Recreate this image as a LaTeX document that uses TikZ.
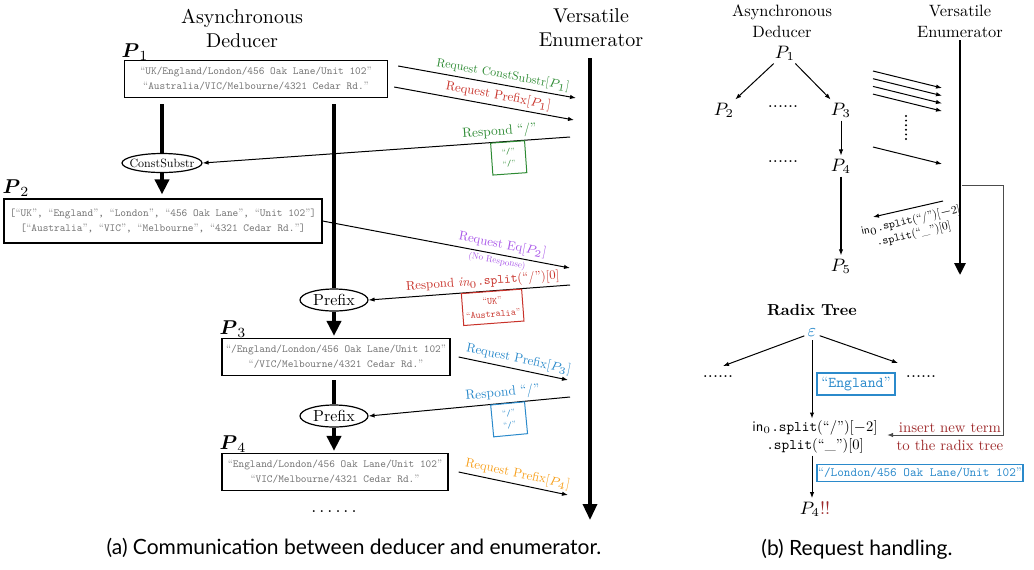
\documentclass[tikz,border=0pt]{standalone}
\usepackage{amsmath}
\usepackage{fontspec}
\setmainfont{lmroman10-regular.otf}[BoldFont=lmroman10-bold.otf,
  ItalicFont=lmroman10-italic.otf,BoldItalicFont=lmroman10-bolditalic.otf]
\setsansfont{lmsans10-regular.otf}
\setmonofont{lmmono10-regular.otf}
\newfontfamily\capfont{Lato}
\usepackage{tikz}
\usetikzlibrary{arrows.meta,shapes.geometric}
\definecolor{cgreen}{HTML}{2E8B34}
\definecolor{cred}{HTML}{C8322A}
\definecolor{cpurple}{HTML}{A855E8}
\definecolor{cblue}{HTML}{2B8ACB}
\definecolor{corange}{HTML}{F7A01D}
\definecolor{cdred}{HTML}{9E2A2B}
\newcommand{\tq}[1]{\textrm{“}#1\textrm{”}}

\begin{document}
\begin{tikzpicture}[x=0.5pt,y=-0.5pt,
  tbox/.style={draw,line width=0.6pt,align=center,text=black!55,inner sep=0pt,
               font=\fontsize{5.4}{7.4}\selectfont\ttfamily,minimum height=18.5pt},
  oval/.style={draw,ellipse,line width=0.6pt,inner sep=0pt},
  arr/.style={-{Latex[length=3pt,width=2.2pt]},line width=0.5pt},
  bigarr/.style={-{Triangle[length=7.5pt,width=7pt]},line width=2pt},
  lbl/.style={sloped,font=\fontsize{6.4}{7.5}\selectfont,inner sep=1.5pt},
  cbox/.style={draw,sloped,line width=0.5pt,align=center,inner sep=1.5pt,
               font=\fontsize{4.4}{6}\selectfont\ttfamily,minimum height=16pt},
  rp/.style={font=\fontsize{9}{10}\selectfont,inner sep=1.5pt}
]
\useasboundingbox (0,0) rectangle (1034,569);

% (a) deducer and enumerator
\node[align=center] (ded) at (242,28) {Asynchronous\\Deducer};
\node[align=center] (enu) at (591,28) {Versatile\\Enumerator};

\node (p1) at (135,52) {$\boldsymbol{P}_1$};
\node[tbox,minimum width=131.5pt] (b1) at (256,79)
  {\tq{UK/England/London/456 Oak Lane/Unit 102}\\\tq{Australia/VIC/Melbourne/4321 Cedar Rd.}};
\node[oval,minimum width=40pt,minimum height=9.5pt,font=\fontsize{6}{7}\selectfont] (cs) at (162,163)
  {\makebox[26pt]{ConstSubstr}};
\node (p2) at (16,188) {$\boldsymbol{P}_2$};
\node[tbox,minimum width=159pt,minimum height=22pt] (b2) at (163,221)
  {[\tq{UK}, \tq{England}, \tq{London}, \tq{456 Oak Lane}, \tq{Unit 102}]\\{}[\tq{Australia}, \tq{VIC}, \tq{Melbourne}, \tq{4321 Cedar Rd.}]};
\node[oval,minimum width=34pt,minimum height=11pt,font=\fontsize{8}{9}\selectfont] (pf1) at (334,300) {Prefix};
\node (p3) at (233,329) {$\boldsymbol{P}_3$};
\node[tbox,minimum width=114pt] (b3) at (336,357)
  {\tq{/England/London/456 Oak Lane/Unit 102}\\\tq{/VIC/Melbourne/4321 Cedar Rd.}};
\node[oval,minimum width=34pt,minimum height=11pt,font=\fontsize{8}{9}\selectfont] (pf2) at (334,416) {Prefix};
\node (p4) at (233,444) {$\boldsymbol{P}_4$};
\node[tbox,minimum width=113pt] (b4) at (335,472)
  {\tq{England/London/456 Oak Lane/Unit 102}\\\tq{VIC/Melbourne/4321 Cedar Rd.}};
\node[font=\fontsize{9}{10}\selectfont] (ld) at (334,512) {.\,.\,.\,.\,.\,.};

\draw[line width=2pt,shorten <=3pt] (cs.north |- b1.south) -- (cs.north);
\draw[bigarr,shorten >=2pt] (cs.south) -- (cs.south |- b2.north);
\draw[line width=2pt,shorten <=3pt] (pf1.north |- b1.south) -- (pf1.north);
\draw[bigarr,shorten >=1pt] (pf1.south) -- (pf1.south |- b3.north);
\draw[line width=2pt,shorten <=2pt] (pf2.north |- b3.south) -- (pf2.north);
\draw[bigarr,shorten >=1pt] (pf2.south) -- (pf2.south |- b4.north);

\coordinate (et) at (590,58);
\coordinate (eb) at (590,520);
\draw[-{Triangle[length=8pt,width=7pt]},line width=1.7pt] (et) -- (eb);

\coordinate (q1) at (576,98);
\coordinate (q2) at (574,120);
\coordinate (s3) at (570,137);
\coordinate (q4) at (570,268);
\coordinate (s5) at (570,285);
\coordinate (q6) at (568,380);
\coordinate (s7) at (570,397);
\coordinate (q8) at (568,495);

\draw[arr] ([shift={(5pt,6.5pt)}]b1.east) -- (q1)
  node[lbl,above,pos=0.58,text=cgreen,font=\fontsize{6}{7}\selectfont] {Request ConstSubstr[$P_1$]};
\draw[arr] ([shift={(3pt,-4pt)}]b1.east) -- (q2)
  node[lbl,above,pos=0.57,text=cred] {Request Prefix[$P_1$]};
\draw[arr] (s3) -- (cs.east)
  node[lbl,above,pos=0.19,text=cgreen,font=\fontsize{6.7}{8}\selectfont] {Respond “/”}
  node[cbox,below,pos=0.17,draw=cgreen,text=cgreen,minimum width=17pt] {\tq{/}\\\tq{/}};
\draw[arr] (b2.east) -- (q4)
  node[lbl,above,pos=0.72,text=cpurple] {Request Eq[$P_2$]}
  node[lbl,below,pos=0.71,text=cpurple,inner sep=1pt,font=\fontsize{4.5}{5}\selectfont] {(No Response)};
\draw[arr] (s5) -- (pf1.east)
  node[lbl,above,pos=0.43,text=cred] {Respond $\mathit{in}_0$\texttt{.split}(“/”)[0]}
  node[cbox,below,pos=0.39,draw=cred,text=cred,font=\fontsize{4.8}{6.5}\selectfont\ttfamily] {\tq{UK}\\\tq{Australia}};
\draw[arr] ([xshift=4pt]b3.east) -- (q6)
  node[lbl,above,pos=0.53,text=cblue] {Request Prefix[$P_3$]};
\draw[arr] (s7) -- (pf2.east)
  node[lbl,above,pos=0.33,text=cblue,font=\fontsize{6.7}{8}\selectfont] {Respond “/”}
  node[cbox,below,pos=0.31,draw=cblue,text=cblue,minimum width=17pt] {\tq{/}\\\tq{/}};
\draw[arr] ([xshift=5pt]b4.east) -- (q8)
  node[lbl,above,pos=0.52,text=corange] {Request Prefix[$P_4$]};

\node[font=\capfont\fontsize{10.5}{12}\selectfont] (capa) at (354,548)
  {(a) Communication between deducer and enumerator.};

% (b) request handling
\node[align=center,font=\fontsize{8.2}{10.5}\selectfont] (ded2) at (782,21) {Asynchronous\\Deducer};
\node[align=center,font=\fontsize{8.2}{10.5}\selectfont] (enu2) at (960,21) {Versatile\\Enumerator};
\node[rp] (r1) at (785,53) {$P_1$};
\node[rp] (r2) at (724,110) {$P_2$};
\node[rp] (rd1) at (783,107) {......};
\node[rp] (r3) at (841,110) {$P_3$};
\node[rp] (rd2) at (783,162) {......};
\node[rp] (r4) at (841,166) {$P_4$};
\node[rp] (r5) at (841,266) {$P_5$};
\draw[arr] (r1) -- (r2);
\draw[arr] (r1) -- (r3);
\draw[arr,line width=0.4pt] (r3) -- (r4);
\draw[arr,line width=0.8pt] (r4) -- (r5);

\foreach \i in {0,...,3} {
  \coordinate (m\i) at (873,71+7.7*\i);
  \coordinate (n\i) at (942,88+7.7*\i);
  \draw[arr] (m\i) -- (n\i);
}
\coordinate (dt) at (906,116);
\coordinate (db) at (906,142);
\draw[line width=1.1pt,dash pattern=on 0pt off 2.3pt,line cap=round] (dt) -- (db);
\coordinate (m4) at (873,147);
\coordinate (n4) at (942,164);
\draw[arr] (m4) -- (n4);

\coordinate (et2) at (960,40);
\coordinate (eb2) at (960,275);
\draw[-{Triangle[length=6pt,width=5.5pt]},line width=1.4pt] (et2) -- (eb2);

\coordinate (k1) at (943,201);
\coordinate (k2) at (873,217);
\draw[arr] (k1) -- (k2)
  node[sloped,below,pos=0.5,align=center,inner sep=3pt,font=\fontsize{5.7}{7}\selectfont]
  {\textsf{in}$_0$\texttt{.split}(“/”)[$-$2]\\\texttt{.split}(“\_”)[0]};

\node[font=\bfseries\fontsize{8}{9}\selectfont] (rt) at (812,310) {Radix Tree};
\node[rp,text=cblue] (eps) at (812,333) {$\varepsilon$};
\coordinate (tl) at (723,366);
\coordinate (tr) at (898,363);
\draw[arr] (eps) -- (tl);
\draw[arr] (eps) -- (tr);
\node[rp] (td1) at (718,377) {......};
\node[rp] (td2) at (921,377) {......};
\node[draw=cblue,line width=0.7pt,text=cblue,font=\fontsize{7.5}{8}\selectfont\ttfamily,
      minimum width=39pt,minimum height=11pt,inner sep=1pt] (eng) at (856,384) {\tq{England}};
\node[align=center,font=\fontsize{7.3}{8.8}\selectfont,inner sep=1pt] (spl) at (815,437)
  {\textsf{in}$_0$\texttt{.split}(“/”)[$-$2]\\\texttt{.split}(“\_”)[0]};
\draw[arr] (eps.south) -- (eps.south |- spl.north);
\node[rp] (r4b) at (815,509) {$P_4$\textcolor{cdred}{!!}};
\draw[arr] (spl.south -| eps) -- (r4b.north -| eps);
\node[draw=cblue,line width=0.7pt,text=cblue,font=\fontsize{6.3}{7}\selectfont\ttfamily,
      minimum width=102.5pt,minimum height=8.5pt,inner sep=0.5pt] (lon) at (920,473)
  {\tq{/London/456 Oak Lane/Unit 102}};
\node[text=cdred,align=center,font=\fontsize{7.4}{9}\selectfont] (ins) at (950,437)
  {insert new term\\to the radix tree};

\coordinate (h1) at (962,185);
\coordinate (h2) at (1003,435);
\coordinate (h3) at (887,435);
\draw[arr,draw=black!70] (h1) -- (h1 -| h2) -- (h2) -- (h3);

\node[font=\capfont\fontsize{10.5}{12}\selectfont] (capb) at (857,549) {(b) Request handling.};
\end{tikzpicture}
\end{document}
